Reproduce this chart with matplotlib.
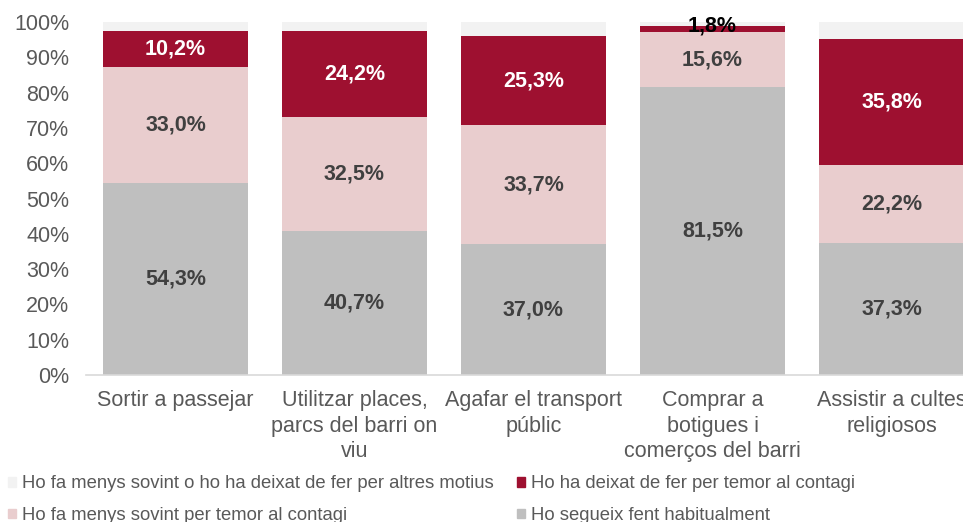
import matplotlib
matplotlib.use("Agg")
import matplotlib.pyplot as plt
from matplotlib.patches import Patch

plt.rcParams['font.family'] = ['Liberation Sans', 'DejaVu Sans']

categories = ["Sortir a passejar", "Utilitzar places,\nparcs del barri on\nviu",
              "Agafar el transport\npúblic", "Comprar a\nbotigues i\ncomerços del barri",
              "Assistir a cultes\nreligiosos"]
segueix = [54.3, 40.7, 37.0, 81.5, 37.3]
menys_temor = [33.0, 32.5, 33.7, 15.6, 22.2]
deixat_temor = [10.2, 24.2, 25.3, 1.8, 35.8]
altres = [2.5, 2.6, 4.0, 1.1, 4.7]

series_names = ["Ho segueix fent habitualment", "Ho fa menys sovint per temor al contagi",
                "Ho ha deixat de fer per temor al contagi",
                "Ho fa menys sovint o ho ha deixat de fer per altres motius"]
colors = ["#BFBFBF", "#E9CDCE", "#9E1030", "#F2F2F2"]
label_colors = ["#404040", "#404040", "white", None]

fig = plt.figure(figsize=(9.63, 5.22), dpi=100)
ax = fig.add_axes([0.0893, 0.2816, 0.9294, 0.6762])

x = list(range(len(categories)))
bottoms = [0.0] * len(categories)
data = [segueix, menys_temor, deixat_temor, altres]
for s, (vals, col) in enumerate(zip(data, colors)):
    ax.bar(x, vals, bottom=bottoms, width=0.81, color=col, edgecolor='none')
    if label_colors[s] is not None:
        for i, v in enumerate(vals):
            txt = f"{v:.1f}".replace('.', ',') + "%"
            if v < 5:
                ax.text(i, bottoms[i] + v, txt, ha='center', va='center',
                        fontsize=15.5, fontweight='bold', color='black')
            else:
                ax.text(i, bottoms[i] + v / 2, txt, ha='center', va='center',
                        fontsize=15.5, fontweight='bold', color=label_colors[s])
    bottoms = [b + v for b, v in zip(bottoms, vals)]

ax.set_xlim(-0.5, len(categories) - 0.5)
ax.set_ylim(0, 100)
ax.set_yticks(range(0, 101, 10))
ax.set_yticklabels([f"{t}%" for t in range(0, 101, 10)], fontsize=15.5, color="#595959")
ax.set_xticks(x)
ax.set_xticklabels(categories, fontsize=15.5, color="#595959", linespacing=1.28)
ax.tick_params(axis='both', length=0)
ax.tick_params(axis='y', pad=12)
ax.tick_params(axis='x', pad=11)
for sp in ['top', 'right', 'left']:
    ax.spines[sp].set_visible(False)
ax.spines['bottom'].set_color('#D9D9D9')
ax.spines['bottom'].set_linewidth(1.2)

handles = [Patch(color=colors[3]), Patch(color=colors[1]), Patch(color=colors[2]), Patch(color=colors[0])]
labels = [series_names[3], series_names[1], series_names[2], series_names[0]]
fig.legend(handles, labels, ncol=2, loc='upper left', bbox_to_anchor=(0.003, 0.0997),
           frameon=False, fontsize=13.3, labelcolor="#595959", handlelength=0.42,
           handleheight=0.42, handletextpad=0.3, columnspacing=1.3, labelspacing=0.8,
           borderaxespad=0, borderpad=0.3)

fig.savefig("out.png", dpi=100)
